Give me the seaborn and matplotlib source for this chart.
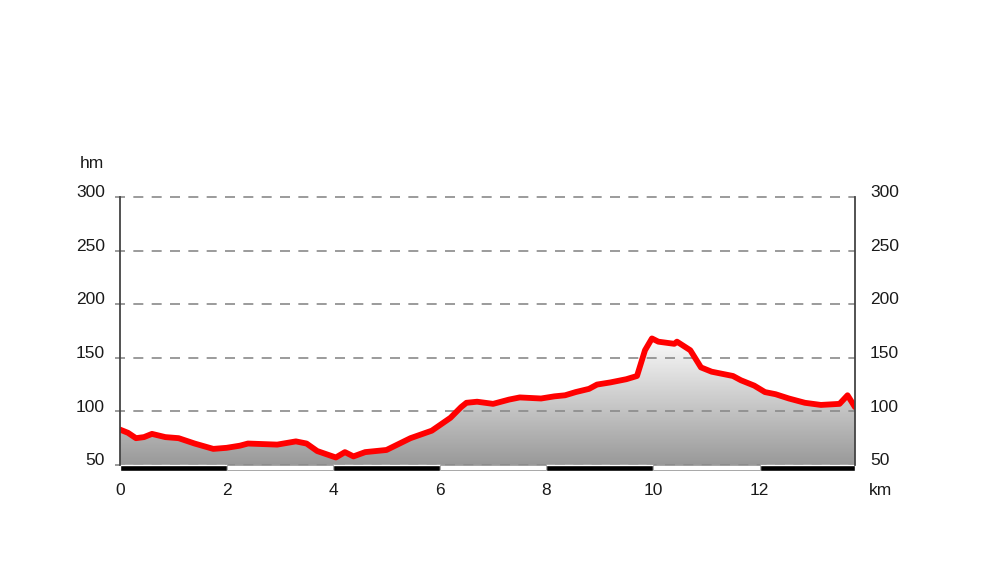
import numpy as np
import pandas as pd
import matplotlib.pyplot as plt
import seaborn as sns

# elevation profile (km, hm)
km = [0.0, 0.15, 0.3, 0.45, 0.6, 0.85, 1.1, 1.4, 1.75, 2.0, 2.25, 2.4, 2.95, 3.3, 3.5, 3.7,
      4.05, 4.22, 4.38, 4.6, 5.0, 5.45, 5.85, 6.2, 6.4, 6.5, 6.7, 7.0, 7.3, 7.5, 7.9,
      8.15, 8.35, 8.55, 8.8, 8.95, 9.2, 9.5, 9.7, 9.85, 9.98, 10.1, 10.4, 10.45, 10.7,
      10.9, 11.1, 11.5, 11.65, 11.9, 12.1, 12.3, 12.55, 12.85, 13.15, 13.5, 13.65, 13.79]
hm = [83, 80, 75, 76, 79, 76, 75, 70, 65, 66, 68, 70, 69, 72, 70, 63,
      57, 62, 58, 62, 64, 75, 82, 94, 104, 108, 109, 107, 111, 113, 112,
      114, 115, 118, 121, 125, 127, 130, 133, 157, 168, 165, 163, 165, 157,
      141, 137, 133, 129, 124, 118, 116, 112, 108, 106, 107, 115, 104]

y_ticks = [50, 100, 150, 200, 250, 300]
x_ticks = [0, 2, 4, 6, 8, 10, 12]

df = pd.DataFrame({"km": km, "hm": hm})

sns.set_style("white")
plt.rcParams["font.family"] = ["Liberation Sans", "DejaVu Sans"]

fig = plt.figure(figsize=(10, 5.84), dpi=100)
ax = fig.add_axes([0.12, 0.2038, 0.735, 0.459])
xmax = df.km.max()
ax.set_xlim(0, xmax)
ax.set_ylim(50, 300)

# grey gradient clipped to the area under the profile
grad = np.linspace(0, 1, 256).reshape(-1, 1)
cmap = plt.matplotlib.colors.LinearSegmentedColormap.from_list("g", ["#999999", "#fbfbfb"])
img = ax.imshow(grad, cmap=cmap, vmin=0, vmax=1,
                extent=[0, xmax, 50, df.hm.max()], origin="lower", aspect="auto", zorder=1)
poly = ax.fill_between(df.km, df.hm, 50, color="none", lw=0)
img.set_clip_path(poly.get_paths()[0], transform=ax.transData)

for y in y_ticks:
    ax.plot([-0.1, xmax], [y, y], color="#8a8a8a", lw=1.2, ls=(0, (6, 5)), zorder=2, clip_on=False)

sns.lineplot(data=df, x="km", y="hm", color="#ff0000", lw=4.2, ax=ax, zorder=4,
             solid_joinstyle="round", solid_capstyle="round")

# scale bar under the axis
segs = [(s, min(2, xmax - s)) for s in range(0, 14, 2)]
ax.broken_barh([segs[i] for i in range(0, len(segs), 2)], (44.6, 5.4),
               facecolors="black", clip_on=False, zorder=5)
ax.broken_barh([segs[i] for i in range(1, len(segs), 2)], (45.0, 4.6),
               facecolors="white", edgecolors="#999999", lw=0.6, clip_on=False, zorder=5)

for s in ["top", "bottom"]:
    ax.spines[s].set_visible(False)
for s in ["left", "right"]:
    ax.spines[s].set_color("#444444")
    ax.spines[s].set_linewidth(1.3)
    ax.spines[s].set_zorder(6)

ax.set_xticks([])
ax.set_yticks([])
ax.set_xlabel("")
ax.set_ylabel("")

for y in y_ticks:
    ax.text(-0.28, y + 4, str(y), ha="right", va="center", fontsize=12.5, color="#1a1a1a")
    ax.text(xmax + 0.28, y + 4, str(y), ha="left", va="center", fontsize=12.5, color="#1a1a1a")
for x in x_ticks:
    ax.text(x, 26, str(x), ha="center", va="center", fontsize=12.5, color="#1a1a1a")
ax.text(-0.52, 331, "hm", ha="center", va="center", fontsize=12.5, color="#1a1a1a")
ax.text(xmax + 0.48, 26, "km", ha="center", va="center", fontsize=12.5, color="#1a1a1a")

fig.savefig("out.png", dpi=100)
